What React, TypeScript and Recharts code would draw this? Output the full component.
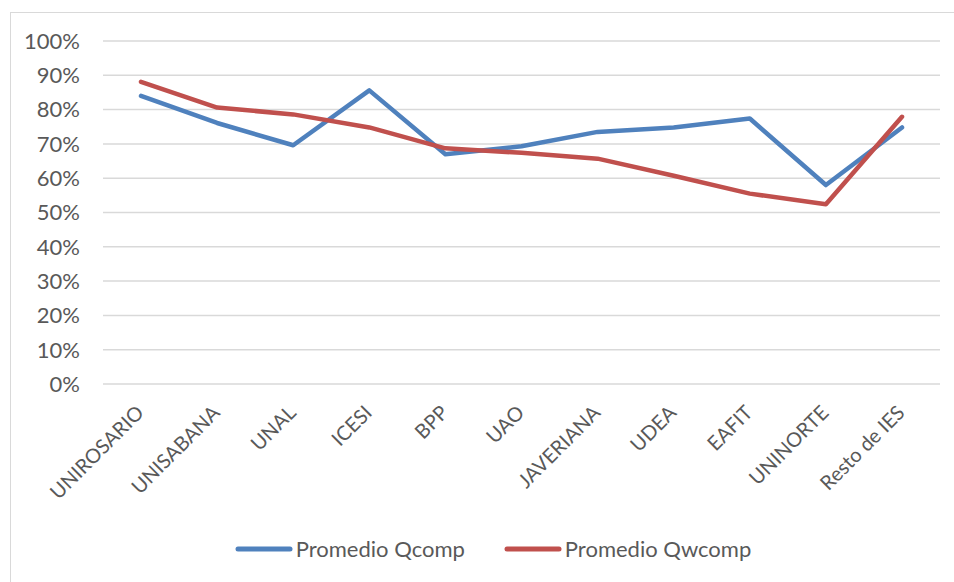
import React from "react";
import { CartesianGrid, Legend, Line, LineChart, XAxis, YAxis } from "recharts";

const CATEGORIES = [
  "UNIROSARIO",
  "UNISABANA",
  "UNAL",
  "ICESI",
  "BPP",
  "UAO",
  "JAVERIANA",
  "UDEA",
  "EAFIT",
  "UNINORTE",
  "Resto de IES",
];

// as fractions
const QCOMP = [0.84, 0.761, 0.696, 0.856, 0.67, 0.693, 0.735, 0.748, 0.774, 0.58, 0.748];
const QWCOMP = [0.881, 0.806, 0.786, 0.748, 0.687, 0.674, 0.657, 0.607, 0.555, 0.524, 0.779];

const Y_TICKS = [0, 0.1, 0.2, 0.3, 0.4, 0.5, 0.6, 0.7, 0.8, 0.9, 1];

const BLUE = "#4F81BD";
const RED = "#C0504D";
const TEXT = "#595959";
const FONT = "Lato, 'Open Sans', sans-serif";

const data = CATEGORIES.map((name, i) => ({ name, qcomp: QCOMP[i], qwcomp: QWCOMP[i] }));

function AngledTick({ x, y, payload }: any) {
  const ax = x + 4;
  const ay = y + 30;
  return (
    <text
      x={ax}
      y={ay}
      transform={`rotate(-45 ${ax} ${ay})`}
      textAnchor="end"
      fill={TEXT}
      fontSize={20}
      fontFamily={FONT}
    >
      {payload.value}
    </text>
  );
}

function LegendContent() {
  const items = [
    { label: "Promedio Qcomp", color: BLUE },
    { label: "Promedio Qwcomp", color: RED },
  ];
  return (
    <div style={{ display: "flex", justifyContent: "center", alignItems: "center", gap: 39, paddingLeft: 32 }}>
      {items.map((it) => (
        <div key={it.label} style={{ display: "flex", alignItems: "center" }}>
          <svg width={58} height={8} style={{ marginRight: 3 }}>
            <line x1={3} y1={4} x2={55} y2={4} stroke={it.color} strokeWidth={5} strokeLinecap="round" />
          </svg>
          <span style={{ fontFamily: FONT, fontSize: 22, color: TEXT }}>{it.label}</span>
        </div>
      ))}
    </div>
  );
}

export default function App() {
  return (
    <div
      style={{
        position: "absolute",
        left: 0,
        top: 0,
        width: 954,
        height: 582,
        overflow: "hidden",
        background: "#fff",
      }}
    >
      <div
        style={{
          position: "absolute",
          left: 10,
          top: 12,
          width: 980,
          height: 600,
          border: "1px solid #D9D9D9",
        }}
      />
      <div style={{ position: "absolute", left: 0, top: 0 }}>
        <LineChart width={954} height={582} data={data} margin={{ top: 41, right: 14, left: 0, bottom: 0 }}>
          <CartesianGrid vertical={false} stroke="#D9D9D9" strokeWidth={1.5} />
          <XAxis
            dataKey="name"
            interval={0}
            height={198}
            axisLine={false}
            tickLine={false}
            tickSize={0}
            tickMargin={0}
            padding={{ left: 38, right: 38 }}
            tick={<AngledTick />}
          />
          <YAxis
            width={103}
            domain={[0, 1]}
            ticks={Y_TICKS}
            axisLine={false}
            tickLine={false}
            tickSize={0}
            tickMargin={23}
            tick={{ fill: TEXT, fontSize: 22, fontFamily: FONT }}
            tickFormatter={(v: number) => `${Math.round(v * 100)}%`}
          />
          <Legend
            verticalAlign="middle"
            align="center"
            content={<LegendContent />}
            wrapperStyle={{ top: 535, left: 0, width: 954 }}
          />
          <Line
            type="linear"
            dataKey="qcomp"
            name="Promedio Qcomp"
            stroke={BLUE}
            strokeWidth={4.5}
            strokeLinecap="round"
            strokeLinejoin="round"
            dot={false}
            isAnimationActive={false}
          />
          <Line
            type="linear"
            dataKey="qwcomp"
            name="Promedio Qwcomp"
            stroke={RED}
            strokeWidth={4.5}
            strokeLinecap="round"
            strokeLinejoin="round"
            dot={false}
            isAnimationActive={false}
          />
        </LineChart>
      </div>
    </div>
  );
}
